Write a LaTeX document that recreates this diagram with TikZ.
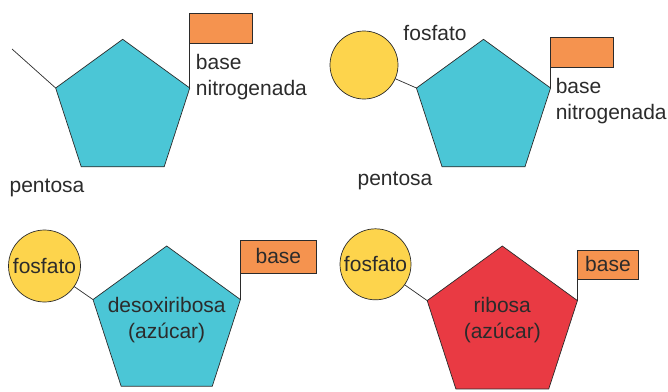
\documentclass[tikz,border=0pt]{standalone}
\usepackage{fontspec}
\setmainfont{Liberation Sans}
\usepackage{tikz}
\usetikzlibrary{positioning,shapes.geometric}
\definecolor{sugarblue}{HTML}{4BC6D6}
\definecolor{sugarred}{HTML}{E93A43}
\definecolor{phosyellow}{HTML}{FDD44C}
\definecolor{baseorange}{HTML}{F5934F}
\definecolor{inkgray}{HTML}{2B2B2B}

\begin{document}
\begin{tikzpicture}[x=1pt,y=-1pt,font=\fontsize{21}{26}\selectfont,
  pent/.style={regular polygon,regular polygon sides=5,draw=inkgray,line width=0.7pt,inner sep=0pt,outer sep=0pt},
  flag/.style={draw=inkgray,fill=baseorange,line width=0.7pt,inner sep=0pt,outer sep=0pt,text=inkgray},
  phos/.style={circle,draw=inkgray,fill=phosyellow,line width=0.7pt,inner sep=0pt,outer sep=0pt,text=inkgray},
  bond/.style={draw=inkgray,line width=0.7pt},
  lbl/.style={inner sep=0pt,text=inkgray}]
\useasboundingbox (0,0) rectangle (668,391);
% --- top left: pentosa with free bond ---
\node[pent,fill=sugarblue,minimum size=141pt] (p1) at (122.7,109.8) {};
\coordinate (tail1) at (12,49);
\draw[bond] (p1.corner 2) -- (tail1);
\node[flag,minimum width=63pt,minimum height=30pt,above right=44.7pt and 0pt of p1.corner 5] (b1) {};
\draw[bond] (p1.corner 5) -- (b1.south west);
\node[lbl,align=left,below right=11pt and 6pt of b1.south west] (t1) {base\\nitrogenada};
\node[lbl,anchor=base] (s1) at (47,192) {pentosa};
% --- top right: fosfato + pentosa + base ---
\node[phos,minimum size=68pt] (f2) at (364,65) {};
\node[pent,fill=sugarblue,minimum size=141pt] (p2) at (483.5,109.8) {};
\draw[bond] (f2) -- (p2.corner 2);
\node[lbl,anchor=base] (l2) at (435,40) {fosfato};
\node[flag,minimum width=63pt,minimum height=30pt,above right=21pt and 0pt of p2.corner 5] (b2) {};
\draw[bond] (p2.corner 5) -- (b2.south west);
\node[lbl,align=left,below right=11pt and 5pt of b2.south west] (t2) {base\\nitrogenada};
\node[lbl,anchor=base] (s2) at (395,185) {pentosa};
% --- bottom left: DNA nucleotide ---
\node[phos,minimum size=72pt] (f3) at (44.5,266) {fosfato};
\node[pent,fill=sugarblue,minimum size=155pt] (p3) at (166.7,323.5) {};
\node[lbl,align=center] (s3) at (166.7,320) {desoxiribosa\\(azúcar)};
\draw[bond] (f3) -- (p3.corner 2);
\node[flag,minimum width=76pt,minimum height=33pt,above right=26.6pt and 0pt of p3.corner 5] (b3) {base};
\draw[bond] (p3.corner 5) -- (b3.south west);
% --- bottom right: RNA nucleotide ---
\node[phos,minimum size=71pt] (f4) at (375.5,264.3) {fosfato};
\node[pent,fill=sugarred,minimum size=158pt] (p4) at (502.3,325) {};
\node[lbl,align=center] (s4) at (502.3,320) {ribosa\\(azúcar)};
\draw[bond] (f4) -- (p4.corner 2);
\node[flag,minimum width=61pt,minimum height=29pt,above right=21.6pt and 0pt of p4.corner 5] (b4) {base};
\draw[bond] (p4.corner 5) -- (b4.south west);
\end{tikzpicture}
\end{document}
